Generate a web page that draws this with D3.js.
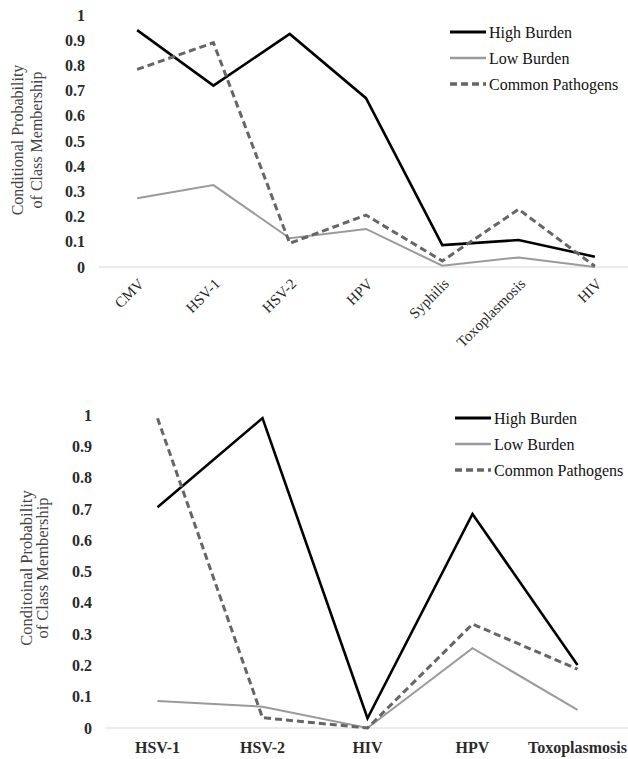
<!DOCTYPE html>
<html>
<head>
<meta charset="utf-8">
<script src="https://cdn.jsdelivr.net/npm/d3@7"></script>
<style>
  body { margin: 0; background: #fff; }
</style>
</head>
<body>
<script>
var width = 628, height = 759;

// top chart
var topCategories = ["CMV", "HSV-1", "HSV-2", "HPV", "Syphilis", "Toxoplasmosis", "HIV"];
var topHigh = [0.94, 0.72, 0.925, 0.67, 0.087, 0.107, 0.041];
var topLow = [0.273, 0.325, 0.114, 0.151, 0.005, 0.038, 0.0];
var topCommon = [0.784, 0.89, 0.094, 0.206, 0.024, 0.229, 0.003];

// bottom chart
var bottomCategories = ["HSV-1", "HSV-2", "HIV", "HPV", "Toxoplasmosis"];
var bottomHigh = [0.705, 0.99, 0.031, 0.684, 0.201];
var bottomLow = [0.086, 0.068, 0.0, 0.255, 0.058];
var bottomCommon = [0.99, 0.033, 0.0, 0.332, 0.188];

var yTicks = [0, 0.1, 0.2, 0.3, 0.4, 0.5, 0.6, 0.7, 0.8, 0.9, 1];
var seriesNames = ["High Burden", "Low Burden", "Common Pathogens"];

var styles = [
  { stroke: "#000", width: 2.6, dash: null },
  { stroke: "#9a9a9a", width: 2, dash: null },
  { stroke: "#666", width: 3, dash: "7,4" }
];

var svg = d3.select("body")
    .append("svg")
    .attr("width", width)
    .attr("height", height)
    .attr("font-family", "'Liberation Serif', 'Times New Roman', 'DejaVu Serif', serif");

function drawChart(opt) {
    var g = svg.append("g");

    var x = d3.scalePoint()
        .domain(opt.categories)
        .range([opt.left, opt.right])
        .padding(0.5);

    var y = d3.scaleLinear()
        .domain([0, 1])
        .range([opt.bottom, opt.top]);

    // baseline
    g.append("line")
        .attr("x1", opt.left)
        .attr("x2", opt.right)
        .attr("y1", y(0))
        .attr("y2", y(0))
        .attr("stroke", "#d9d9d9")
        .attr("stroke-width", 1);

    // y tick labels
    g.selectAll(".ytick")
        .data(yTicks)
        .enter()
        .append("text")
        .attr("x", opt.tickX)
        .attr("y", function(d) { return y(d); })
        .attr("dy", "0.35em")
        .attr("text-anchor", "end")
        .attr("font-size", 16)
        .attr("font-weight", "bold")
        .attr("fill", "#2a2a2a")
        .text(function(d) { return d3.format("")(d); });

    // x labels
    var xl = g.selectAll(".xlab")
        .data(opt.categories)
        .enter()
        .append("text")
        .attr("font-size", opt.rotate ? 15 : 16)
        .attr("font-weight", opt.rotate ? "normal" : "bold")
        .attr("fill", "#2a2a2a")
        .text(function(d) { return d; });
    if (opt.rotate) {
        xl.attr("text-anchor", "end")
          .attr("dy", "0.35em")
          .attr("transform", function(d) {
              return `translate(${x(d) + 4}, ${y(0) + 14}) rotate(-45)`;
          });
    } else {
        xl.attr("text-anchor", "middle")
          .attr("x", function(d) { return x(d); })
          .attr("y", y(0) + 25);
    }

    // y axis title
    var title = g.append("text")
        .attr("transform", `translate(${opt.titleX}, ${opt.titleY}) rotate(-90)`)
        .attr("text-anchor", "middle")
        .attr("font-size", opt.titleSize)
        .attr("fill", "#444");
    title.append("tspan").attr("x", 0).attr("dy", 0).text(opt.title[0]);
    title.append("tspan").attr("x", 0).attr("dy", opt.titleGap).text(opt.title[1]);

    // lines
    var line = d3.line()
        .x(function(d, i) { return x(opt.categories[i]); })
        .y(function(d) { return y(d); });

    [opt.high, opt.low, opt.common].forEach(function(vals, i) {
        g.append("path")
            .datum(vals)
            .attr("d", line)
            .attr("fill", "none")
            .attr("stroke", styles[i].stroke)
            .attr("stroke-width", styles[i].width)
            .attr("stroke-dasharray", styles[i].dash);
    });

    // legend
    var lg = g.append("g")
        .attr("transform", `translate(${opt.legendX}, ${opt.legendY})`);
    seriesNames.forEach(function(name, i) {
        lg.append("line")
            .attr("x1", 0)
            .attr("x2", 36)
            .attr("y1", i * 26)
            .attr("y2", i * 26)
            .attr("stroke", styles[i].stroke)
            .attr("stroke-width", styles[i].width + 0.4)
            .attr("stroke-dasharray", styles[i].dash);
        lg.append("text")
            .attr("x", 39)
            .attr("y", i * 26)
            .attr("dy", "0.35em")
            .attr("font-size", 16)
            .attr("fill", "#111")
            .text(name);
    });
}

drawChart({
    categories: topCategories,
    high: topHigh, low: topLow, common: topCommon,
    left: 99, right: 633, top: 15, bottom: 267,
    tickX: 85, rotate: true,
    title: ["Conditional Probability", "of Class Membership"],
    titleX: 23, titleY: 140, titleSize: 16, titleGap: 19,
    legendX: 450, legendY: 32
});

drawChart({
    categories: bottomCategories,
    high: bottomHigh, low: bottomLow, common: bottomCommon,
    left: 105, right: 630, top: 415, bottom: 728,
    tickX: 92, rotate: false,
    title: ["Conditoinal Probability", "of Class Membership"],
    titleX: 32, titleY: 568, titleSize: 16.5, titleGap: 16,
    legendX: 455, legendY: 418
});
</script>
</body>
</html>
